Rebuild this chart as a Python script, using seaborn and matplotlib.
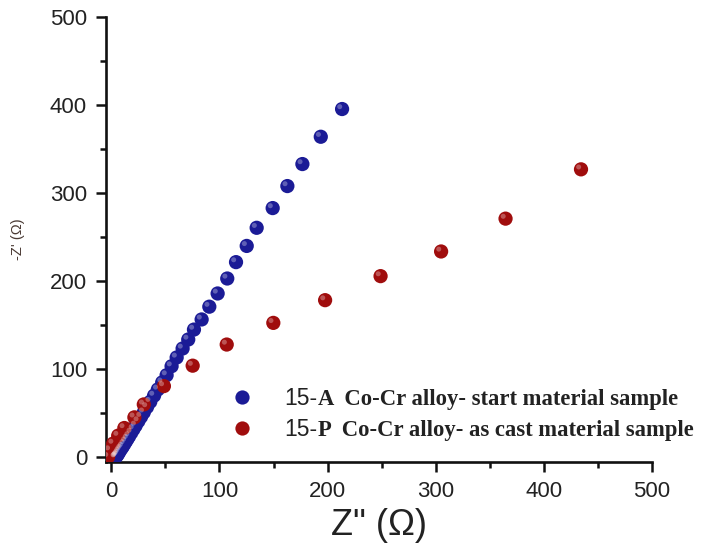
import numpy as np
import pandas as pd
import matplotlib
matplotlib.use("Agg")
import matplotlib.pyplot as plt
import matplotlib.transforms as mtransforms
import seaborn as sns

# Nyquist data
z_real_a = [213.4, 193.7, 176.7, 162.8, 149.2, 134.4, 125.2, 115.3, 107.2, 98.3,
            90.6, 83.5, 76.4, 71.1, 65.9, 60.4, 55.7, 51.1, 47.0, 43.0,
            39.5, 36.0, 33.0, 30.0, 27.5, 25.0, 22.5, 20.5, 18.5, 16.5,
            15.0, 13.5, 12.0, 10.5, 9.3, 8.2, 7.2, 6.3, 5.5, 4.8, 4.2, 3.7]
z_imag_a = [395.5, 364.0, 333.0, 308.0, 283.0, 260.6, 240.0, 221.6, 203.0, 186.0,
            171.0, 156.5, 145.0, 133.7, 123.5, 113.3, 103.4, 93.2, 85.0, 77.0,
            70.0, 63.0, 57.0, 51.0, 46.0, 41.0, 36.0, 32.0, 28.0, 24.0,
            21.0, 18.0, 15.0, 12.0, 10.0, 8.0, 6.0, 4.0, 2.5, 1.5, 0.5, 0.0]

z_real_p = [434.4, 364.6, 305.0, 249.0, 197.7, 149.8, 106.7, 75.2, 48.6, 30.0,
            21.3, 12.0, 6.3, 1.7, -1.4, -3.0]
z_imag_p = [327.0, 271.0, 233.7, 205.7, 178.4, 152.6, 128.0, 104.0, 80.8, 60.0,
            45.3, 33.2, 24.5, 15.5, 8.0, 0.5]

# legend labels: "15-" is set in sans, the rest in bold serif
label_prefix = ["15-", "15-"]
label_rest = ["A  Co-Cr alloy- start material sample",
              "P  Co-Cr alloy- as cast material sample"]
series_colors = ["#1b1b96", "#a00d0d"]
x_ticks = [0, 100, 200, 300, 400, 500]
y_ticks = [0, 100, 200, 300, 400, 500]

df = pd.concat([
    pd.DataFrame({"zr": z_real_a, "zi": z_imag_a, "sample": label_rest[0]}),
    pd.DataFrame({"zr": z_real_p, "zi": z_imag_p, "sample": label_rest[1]}),
], ignore_index=True)

sns.set_style("ticks")
plt.rcParams["font.family"] = ["Liberation Sans", "DejaVu Sans"]

fig = plt.figure(figsize=(7.01, 5.49), dpi=100)
ax = fig.add_axes([0.151, 0.158, 0.779, 0.811])

palette = dict(zip(label_rest, series_colors))
sns.scatterplot(data=df, x="zr", y="zi", hue="sample", palette=palette,
                s=105, edgecolor="none", ax=ax, zorder=3)

# small highlight to mimic the shaded spheres
offset = mtransforms.ScaledTranslation(-1.7 / 72, 1.7 / 72, fig.dpi_scale_trans)
ax.scatter(df["zr"], df["zi"], s=13, color="white", alpha=0.3,
           edgecolor="none", transform=ax.transData + offset, zorder=4)

ax.set_xlim(-5.1, 500)
ax.set_ylim(-5.7, 500)
ax.set_xticks(x_ticks)
ax.set_yticks(y_ticks)
ax.set_xticks(np.arange(50, 500, 100), minor=True)
ax.set_yticks(np.arange(50, 500, 100), minor=True)
ax.tick_params(which="major", direction="out", length=7.5, width=1.8,
               labelsize=16, colors="#111111", labelcolor="#222222", pad=6)
ax.tick_params(which="minor", direction="out", length=4, width=1.8, colors="#111111")
for side in ["left", "bottom"]:
    ax.spines[side].set_linewidth(1.9)
    ax.spines[side].set_color("#111111")
sns.despine(ax=ax)

ax.set_xlabel("Z\" (\u03a9)", fontsize=26, color="#222222", labelpad=4)
ax.set_ylabel("-Z' (\u03a9)", fontsize=10.5, color="#4a3a34", labelpad=18)

leg = ax.legend(loc="upper left", bbox_to_anchor=(0.19, 0.19), frameon=False,
                handlelength=2.0, handletextpad=0.84, labelspacing=0.35,
                borderaxespad=0, prop={"size": 16.5})
leg.set_zorder(5)
for t, pre, rest in zip(leg.get_texts(), label_prefix, label_rest):
    t.set_text(pre)
    t.set_color("#222222")
    ax.annotate(rest, xy=(1, 0), xycoords=t, xytext=(0.5, 0),
                textcoords="offset points", ha="left", va="bottom",
                fontsize=16.3, fontfamily="Liberation Serif", fontweight="bold",
                color="#222222", zorder=6)

fig.savefig("out.png", dpi=100)
